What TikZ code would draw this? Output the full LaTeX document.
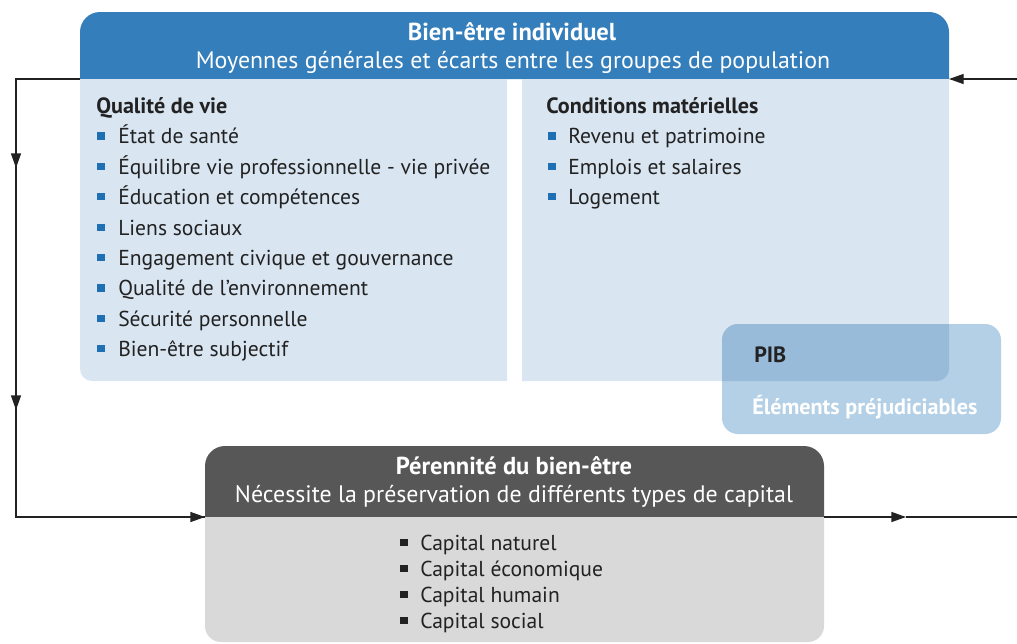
\documentclass[tikz,border=0pt]{standalone}
\usepackage{fontspec}
\setmainfont{PT Sans}
\usetikzlibrary{arrows.meta}
\definecolor{hdrblue}{HTML}{337EBB}
\definecolor{bodyblue}{HTML}{D9E6F2}
\definecolor{pibblue}{HTML}{B4D0E6}
\definecolor{pibover}{HTML}{99BBDA}
\definecolor{hdrgray}{HTML}{575757}
\definecolor{bodygray}{HTML}{D9D9D9}
\definecolor{bulletblue}{HTML}{1F6FB5}
\definecolor{txt}{HTML}{222222}
\tikzset{
  itemtxt/.style={anchor=mid west, inner sep=0pt, text=txt, font=\fontsize{16.2}{18}\selectfont},
  headtxt/.style={anchor=mid west, inner sep=0pt, text=txt, font=\fontsize{16.6}{18}\selectfont\bfseries},
  bbul/.style={rectangle, inner sep=0pt, minimum size=5.4pt, fill=bulletblue},
  kbul/.style={rectangle, inner sep=0pt, minimum size=5.4pt, fill=txt},
  conn/.style={draw=txt, line width=1pt},
  tip/.style={-{Triangle[length=11pt,width=7.5pt]}}
}
\begin{document}
\begin{tikzpicture}[x=0.75pt,y=-0.75pt]
\useasboundingbox (0,0) rectangle (1017,643);
% top box
\fill[hdrblue] (80,79) [rounded corners=15pt] -- (80,12) -- (949,12) [sharp corners] -- (949,79) -- cycle;
\fill[bodyblue] (80,79) -- (507,79) -- (507,381) [rounded corners=9pt] -- (80,381) [sharp corners] -- cycle;
\fill[bodyblue] (522,79) -- (949,79) [rounded corners=9pt] -- (949,381) [sharp corners] -- (522,381) -- cycle;
% PIB box
\fill[pibblue, rounded corners=12pt] (722,324) rectangle (1001,434);
\fill[pibover] (722,381) [rounded corners=12pt] -- (722,324) [sharp corners] -- (949,324) [rounded corners=9pt] -- (949,381) [sharp corners] -- cycle;
\node[headtxt] (pib) at (754,359) {PIB};
\node[headtxt, text=white] (elem) at (752,411) {Éléments préjudiciables};
% header text
\node[inner sep=0pt, text=white, font=\fontsize{18.4}{20}\selectfont\bfseries, anchor=mid] (t1) at (512,37) {Bien-être individuel};
\node[inner sep=0pt, text=white, font=\fontsize{17.9}{20}\selectfont, anchor=mid] (t2) at (513,65) {Moyennes générales et écarts entre les groupes de population};
% left list
\node[headtxt] (qv) at (96,110) {Qualité de vie};
\foreach \t [count=\i] in {État de santé,Équilibre vie professionnelle - vie privée,Éducation et compétences,Liens sociaux,Engagement civique et gouvernance,Qualité de l’environnement,Sécurité personnelle,Bien-être subjectif}{
  \node[bbul] (lb\i) at (101,{136+30.4*(\i-1)}) {};
  \node[itemtxt] (li\i) at (118,{140.5+30.4*(\i-1)}) {\t};
}
% right list
\node[headtxt] (cm) at (546,110) {Conditions matérielles};
\foreach \t [count=\i] in {Revenu et patrimoine,Emplois et salaires,Logement}{
  \node[bbul] (rb\i) at (552,{136+30.4*(\i-1)}) {};
  \node[itemtxt] (ri\i) at (568,{140.5+30.4*(\i-1)}) {\t};
}
% bottom box
\fill[hdrgray] (205,517) [rounded corners=15pt] -- (205,446) -- (824,446) [sharp corners] -- (824,517) -- cycle;
\fill[bodygray] (205,517) -- (824,517) [rounded corners=12pt] -- (824,642) -- (205,642) [sharp corners] -- cycle;
\node[inner sep=0pt, text=white, font=\fontsize{18.4}{20}\selectfont\bfseries, anchor=mid] (b1) at (514,471) {Pérennité du bien-être};
\node[inner sep=0pt, text=white, font=\fontsize{17.9}{20}\selectfont, anchor=mid] (b2) at (514,499) {Nécessite la préservation de différents types de capital};
\foreach \t [count=\i] in {Capital naturel,Capital économique,Capital humain,Capital social}{
  \node[kbul] (kb\i) at (404,{542.5+26*(\i-1)}) {};
  \node[itemtxt] (ki\i) at (420,{547+26*(\i-1)}) {\t};
}
% connectors
\coordinate (tl) at (80,79);
\coordinate (cl1) at (16,79);
\coordinate (ma) at (16,168);
\coordinate (mb) at (16,410);
\coordinate (cl2) at (16,517);
\coordinate (bl) at (205,517);
\coordinate (tr) at (949,79);
\coordinate (er) at (1017,79);
\coordinate (br) at (824,517);
\coordinate (mr) at (906,517);
\coordinate (eb) at (1017,517);
\draw[conn] (tl) -- (cl1) -- (cl2) -- (bl);
\draw[conn, tip] (cl1) -- (ma);
\draw[conn, tip] (ma) -- (mb);
\draw[conn, tip] (cl2) -- (bl);
\draw[conn, tip] (er) -- (tr);
\draw[conn, tip] (br) -- (mr);
\draw[conn] (mr) -- (eb);
\end{tikzpicture}
\end{document}
